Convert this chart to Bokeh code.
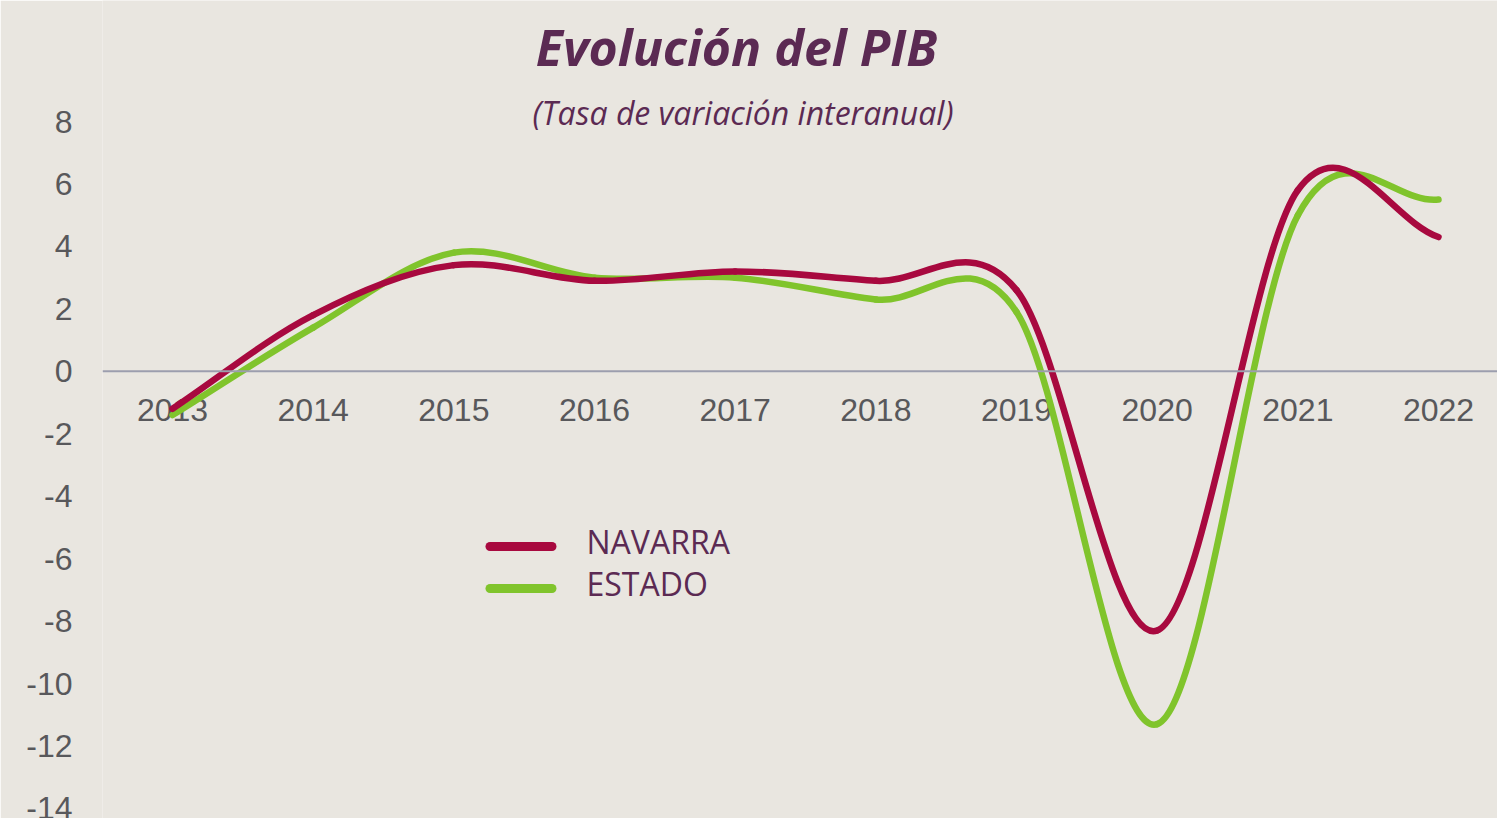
import numpy as np
from bokeh.plotting import figure
from bokeh.models import (ColumnDataSource, Span, Label, FixedTicker, Range1d,
                          CustomJSTickFormatter)
from bokeh.core.properties import value
from bokeh.embed import file_html
from bokeh.resources import INLINE

# ---------------- data ----------------
years = [2013, 2014, 2015, 2016, 2017, 2018, 2019, 2020, 2021, 2022]
year_labels = [str(y) for y in years]
navarra = [-1.2, 1.8, 3.4, 2.9, 3.2, 2.9, 2.6, -8.3, 5.8, 4.3]
estado = [-1.4, 1.4, 3.8, 3.0, 3.0, 2.3, 1.9, -11.3, 5.0, 5.5]
y_ticks = list(range(-14, 9, 2))
series_names = ["NAVARRA", "ESTADO"]

title_text = "Evolución del PIB"
subtitle_text = "(Tasa de variación interanual)"

# ---------------- style ----------------
BG = "#e9e6e0"
PURPLE = "#5b2a53"
TICK = "#58585b"
C_NAV = "#a8093f"
C_EST = "#80c42c"
ZERO = "#9c9eae"

W, H = 1497, 818
LEFT = 102
PX_YEAR = (1438 - 172) / 9.0      # pixels per year
PX_UNIT = (808 - 121) / 22.0      # pixels per y unit


def sx(px):  # screen x -> data x
    return 2013 + (px - 172) / PX_YEAR


def sy(py):  # screen y -> data y
    return 8 - (py - 121) / PX_UNIT


def smooth_segments(xs, ys):
    """Cubic Bezier segments (Catmull-Rom style smoothing, as in spreadsheet smoothed lines)."""
    xs = np.asarray(xs, dtype=float)
    ys = np.asarray(ys, dtype=float)
    n = len(xs)
    px = np.concatenate([[2 * xs[0] - xs[1]], xs, [2 * xs[-1] - xs[-2]]])
    py = np.concatenate([[2 * ys[0] - ys[1]], ys, [2 * ys[-1] - ys[-2]]])
    d = dict(x0=[], y0=[], x1=[], y1=[], cx0=[], cy0=[], cx1=[], cy1=[])
    for i in range(n - 1):
        j = i + 1
        d["x0"].append(px[j]); d["y0"].append(py[j])
        d["x1"].append(px[j + 1]); d["y1"].append(py[j + 1])
        d["cx0"].append(px[j] + (px[j + 1] - px[j - 1]) / 6)
        d["cy0"].append(py[j] + (py[j + 1] - py[j - 1]) / 6)
        d["cx1"].append(px[j + 1] - (px[j + 2] - px[j]) / 6)
        d["cy1"].append(py[j + 1] - (py[j + 2] - py[j]) / 6)
    return ColumnDataSource(d)


p = figure(
    width=W, height=H,
    x_range=Range1d(sx(LEFT), sx(W)),
    y_range=Range1d(sy(H), sy(0)),
    x_axis_location=None,
    title=None,
    toolbar_location=None,
    output_backend="svg",
    background_fill_color=BG,
    border_fill_color=BG,
    outline_line_color=None,
    min_border_left=LEFT, min_border_right=0, min_border_top=0, min_border_bottom=0,
)
p.xgrid.visible = False
p.ygrid.visible = False

ax = p.yaxis[0]
ax.ticker = FixedTicker(ticks=y_ticks)
ax.formatter = CustomJSTickFormatter(code="return tick.toString();")
ax.axis_line_color = None
ax.major_tick_line_color = None
ax.minor_tick_line_color = None
ax.major_tick_out = 0
ax.major_label_standoff = 30
ax.major_label_text_font = "Liberation Sans"
ax.major_label_text_font_size = "32px"
ax.major_label_text_color = TICK

# zero line
p.add_layout(Span(location=0, dimension="width", line_color=ZERO, line_width=2))

# year labels along the zero line
p.text(x=years, y=0, text=year_labels, text_font=value("Liberation Sans"),
       text_font_size="32px", text_color=TICK, text_align="center",
       text_baseline="middle", y_offset=39)

# smoothed lines
src_est = smooth_segments(years, estado)
src_nav = smooth_segments(years, navarra)
p.bezier(x0="x0", y0="y0", x1="x1", y1="y1", cx0="cx0", cy0="cy0", cx1="cx1", cy1="cy1",
         source=src_est, line_color=C_EST, line_width=6.5, line_cap="round")
p.bezier(x0="x0", y0="y0", x1="x1", y1="y1", cx0="cx0", cy0="cy0", cx1="cx1", cy1="cy1",
         source=src_nav, line_color=C_NAV, line_width=6.5, line_cap="round")

# legend (drawn manually)
leg_colors = [C_NAV, C_EST]
leg_rows = [546, 588]
for name, col, row in zip(series_names, leg_colors, leg_rows):
    p.segment(x0=sx(489.5), y0=sy(row), x1=sx(551.5), y1=sy(row),
              line_color=col, line_width=9, line_cap="round")
    p.add_layout(Label(x=sx(586), y=sy(row - 5), text=name, text_align="left",
                       text_baseline="middle", text_font="Open Sans",
                       text_font_size="32px", text_color=PURPLE))

# title and subtitle
p.add_layout(Label(x=sx(736), y=sy(46.5), text=title_text, text_align="center",
                   text_baseline="middle", text_font="Open Sans",
                   text_font_style="bold italic", text_font_size="50px", text_color=PURPLE))
p.add_layout(Label(x=sx(742.5), y=sy(111.5), text=subtitle_text, text_align="center",
                   text_baseline="middle", text_font="Open Sans",
                   text_font_style="italic", text_font_size="32px", text_color=PURPLE))

open("out.html", "w").write(file_html(p, INLINE))
